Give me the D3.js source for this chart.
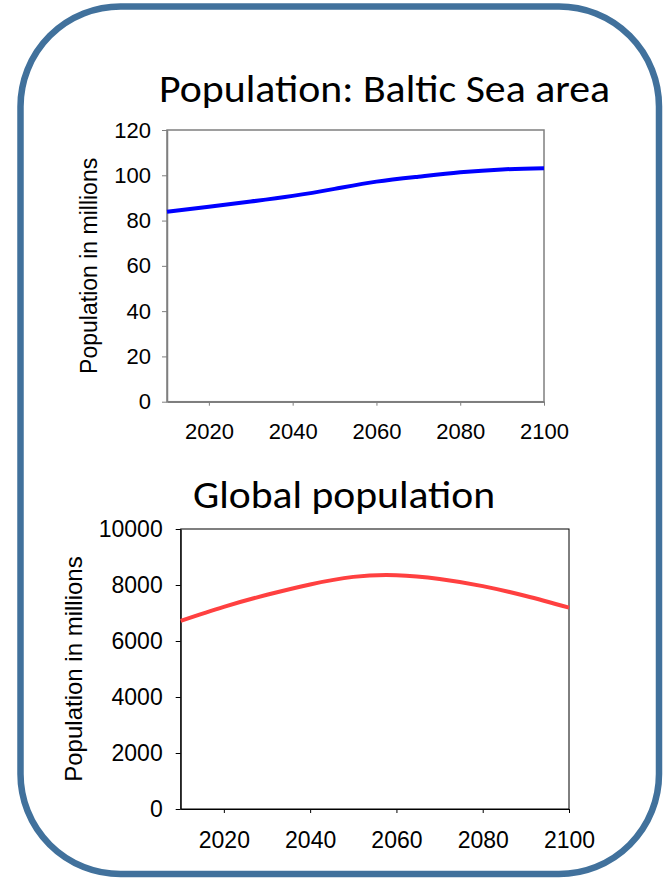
<!DOCTYPE html>
<html>
<head>
<meta charset="utf-8">
<script src="https://cdn.jsdelivr.net/npm/d3@7"></script>
<style>
  html, body { margin: 0; padding: 0; background: #ffffff; }
  svg { display: block; }
</style>
</head>
<body>
<svg id="chart" width="665" height="880"></svg>
<script>
// ---- Data ----
const years = [2010, 2020, 2030, 2040, 2050, 2060, 2070, 2080, 2090, 2100];
const balticPopulation = [83.9, 86.1, 88.4, 90.9, 94.0, 97.2, 99.4, 101.3, 102.6, 103.1];
const globalPopulation = [6720, 7220, 7650, 8020, 8290, 8350, 8215, 7960, 7605, 7190];
const xTicks = [2020, 2040, 2060, 2080, 2100];
const balticYTicks = [0, 20, 40, 60, 80, 100, 120];
const globalYTicks = [0, 2000, 4000, 6000, 8000, 10000];
const titleTop = "Population: Baltic Sea area";
const titleBottom = "Global population";
const yLabel = "Population in millions";

const svg = d3.select("#chart");

// Rounded frame
svg.append("rect")
  .attr("x", 20.5).attr("y", 6.5)
  .attr("width", 638.5).attr("height", 867.5)
  .attr("rx", 100).attr("ry", 100)
  .attr("fill", "#ffffff")
  .attr("stroke", "#41719c")
  .attr("stroke-width", 6.5);

function drawPanel(cfg) {
  const x = d3.scaleLinear().domain([2010, 2100]).range([cfg.left, cfg.right]);
  const y = d3.scaleLinear().domain([0, cfg.yMax]).range([cfg.bottom, cfg.top]);
  const g = svg.append("g");

  g.append("rect")
    .attr("x", cfg.left).attr("y", cfg.top)
    .attr("width", cfg.right - cfg.left).attr("height", cfg.bottom - cfg.top)
    .attr("fill", "none").attr("stroke", cfg.frameColor).attr("stroke-width", cfg.frameWidth);

  const xAxis = g.append("g")
    .attr("transform", `translate(0,${cfg.bottom})`)
    .call(d3.axisBottom(x).tickValues(xTicks).tickFormat(d3.format("d"))
      .tickSizeInner(4).tickSizeOuter(0).tickPadding(cfg.xPad));
  const yAxis = g.append("g")
    .attr("transform", `translate(${cfg.left},0)`)
    .call(d3.axisLeft(y).tickValues(cfg.yTicks).tickFormat(d3.format("d"))
      .tickSizeInner(5).tickSizeOuter(0).tickPadding(cfg.yPad));
  [xAxis, yAxis].forEach(a => {
    a.select(".domain").attr("stroke", cfg.frameColor).attr("stroke-width", cfg.frameWidth);
    a.selectAll(".tick line").attr("stroke", cfg.frameColor).attr("stroke-width", 1);
    a.selectAll("text")
      .attr("font-family", "'Liberation Sans', Arial, sans-serif")
      .attr("font-size", cfg.tickFont).attr("fill", "#000");
  });

  const line = d3.line()
    .x((d, i) => x(years[i]))
    .y(d => y(d))
    .curve(d3.curveNatural);
  g.append("path")
    .datum(cfg.values)
    .attr("d", line)
    .attr("fill", "none")
    .attr("stroke", cfg.color)
    .attr("stroke-width", 4)
    .attr("stroke-linecap", "butt");

  g.append("text")
    .attr("transform", `translate(${cfg.labelX},${(cfg.top + cfg.bottom) / 2}) rotate(-90)`)
    .attr("text-anchor", "middle")
    .attr("font-family", "'Liberation Sans', Arial, sans-serif")
    .attr("font-size", cfg.labelFont)
    .attr("fill", "#000")
    .text(yLabel);

  g.append("text")
    .attr("x", cfg.titleX).attr("y", cfg.titleY)
    .attr("text-anchor", "middle")
    .attr("font-family", "Carlito, Lato, 'Open Sans', sans-serif")
    .attr("font-size", cfg.titleFont)
    .attr("textLength", cfg.titleLen)
    .attr("lengthAdjust", "spacingAndGlyphs")
    .attr("fill", "#000")
    .text(cfg.title);
}

drawPanel({
  left: 167, right: 544, top: 130, bottom: 401.7,
  yMax: 120, yTicks: balticYTicks, values: balticPopulation,
  color: "#0000ff", frameColor: "#7f7f7f", frameWidth: 1.5,
  tickFont: 22, xPad: 18, yPad: 11, labelFont: 23, labelX: 97,
  title: titleTop, titleX: 384.5, titleY: 102, titleFont: 38, titleLen: 451
});

drawPanel({
  left: 180.7, right: 569, top: 529, bottom: 809,
  yMax: 10000, yTicks: globalYTicks, values: globalPopulation,
  color: "#ff4040", frameColor: "#000000", frameWidth: 1,
  tickFont: 23, xPad: 19, yPad: 13, labelFont: 24, labelX: 82,
  title: titleBottom, titleX: 344, titleY: 508, titleFont: 38, titleLen: 302
});
</script>
</body>
</html>
